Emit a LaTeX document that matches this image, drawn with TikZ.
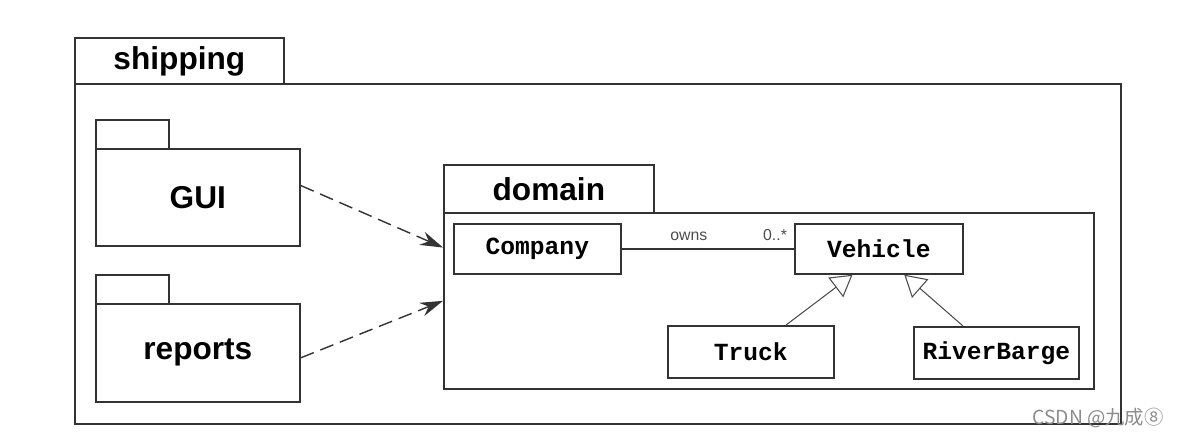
\documentclass[tikz,border=0pt]{standalone}
\usepackage{fontspec}
\setmainfont{Liberation Sans}
\newfontfamily\clsfont{Liberation Mono}
\newfontfamily\cjkfont{Noto Sans CJK SC}
\usetikzlibrary{arrows.meta,calc}
\tikzset{
  box/.style={draw=black!80,line width=1pt,anchor=north west,inner sep=0pt},
  pkgname/.style={box,font=\fontsize{18}{20}\selectfont\bfseries},
  cls/.style={box,font=\fontsize{14}{16}\selectfont\clsfont\bfseries},
  dep/.style={draw=black!80,line width=0.8pt,dash pattern=on 8pt off 4pt,-{Stealth[length=13pt,width=8pt]}},
  isa/.style={draw=black!70,line width=0.6pt,-{Triangle[open,length=12pt,width=14pt]}},
}
\begin{document}
\begin{tikzpicture}[x=0.02cm,y=-0.02cm]
  \useasboundingbox (0,0) rectangle (1178,438);
  % outer package
  \node[pkgname,minimum width=4.18cm,minimum height=0.92cm,text depth=0.35em] (shiptab) at (74,37) {shipping};
  \node[box,minimum width=20.92cm,minimum height=6.8cm] (ship) at (74,83) {};
  % GUI and reports
  \node[box,minimum width=1.46cm,minimum height=0.58cm] (guitab) at (95,119) {};
  \node[pkgname,minimum width=4.08cm,minimum height=1.94cm] (gui) at (95,148) {GUI};
  \node[box,minimum width=1.46cm,minimum height=0.58cm] (reptab) at (95,274) {};
  \node[pkgname,minimum width=4.08cm,minimum height=1.96cm] (rep) at (95,303) {reports};
  % domain
  \node[pkgname,minimum width=4.2cm,minimum height=0.96cm] (domtab) at (443,164) {domain};
  \node[box,minimum width=13cm,minimum height=3.52cm] (dom) at (443,212) {};
  \node[cls,minimum width=3.34cm,minimum height=1cm] (company) at (453,223) {Company};
  \node[cls,minimum width=3.36cm,minimum height=1cm] (vehicle) at (794,223) {Vehicle};
  \node[cls,minimum width=3.32cm,minimum height=1.04cm] (truck) at (667,325) {Truck};
  \node[cls,minimum width=3.3cm,minimum height=1.04cm] (barge) at (913,326) {RiverBarge};
  % connectors
  \draw[draw=black!80,line width=0.8pt] (company) -- (vehicle)
    node[pos=0.39,above=1pt,font=\small,text=black!70] {owns}
    node[pos=0.89,above=1pt,font=\small,text=black!70] {0..*};
  \draw[isa] ($(truck.north west)!0.71!(truck.north east)$) -- ($(vehicle.south west)!0.345!(vehicle.south east)$);
  \draw[isa] ($(barge.north west)!0.3!(barge.north east)$) -- ($(vehicle.south west)!0.65!(vehicle.south east)$);
  \draw[dep] ($(gui.north east)!0.38!(gui.south east)$) -- ($(dom.north west)!0.2!(dom.south west)$);
  \draw[dep] ($(rep.north east)!0.55!(rep.south east)$) -- ($(dom.north west)!0.5!(dom.south west)$);
  \node[font=\cjkfont\fontsize{11}{12}\selectfont,text=black!45] (mark) at (1098,418) {CSDN @九成⑧};
\end{tikzpicture}
\end{document}
